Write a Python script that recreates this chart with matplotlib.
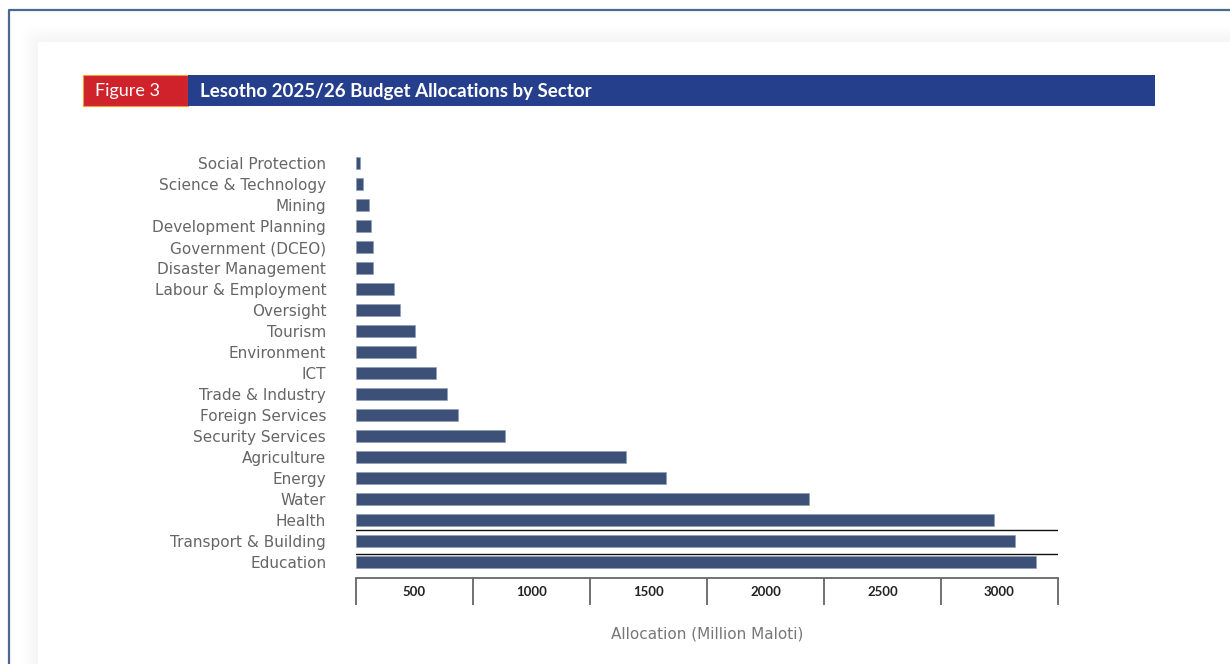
import numpy as np
import matplotlib.pyplot as plt
from matplotlib.patches import Rectangle, FancyBboxPatch
from matplotlib.lines import Line2D

# sectors, top of chart first
sectors = ["Social Protection", "Science & Technology", "Mining", "Development Planning",
           "Government (DCEO)", "Disaster Management", "Labour & Employment", "Oversight",
           "Tourism", "Environment", "ICT", "Trade & Industry", "Foreign Services",
           "Security Services", "Agriculture", "Energy", "Water", "Health",
           "Transport & Building", "Education"]
# allocations (million maloti)
allocation = [15, 31, 56, 64, 72, 72, 161, 186, 250, 257, 340, 387, 436, 637,
              1154, 1324, 1938, 2728, 2818, 2906]

major_ticks = [0, 500, 1000, 1500, 2000, 2500, 3000]
label_pos = [250, 750, 1250, 1750, 2250, 2750]
label_txt = ["500", "1000", "1500", "2000", "2500", "3000"]

W, H = 1230, 664
fig = plt.figure(figsize=(12.3, 6.64), dpi=100)

def fx(px):
    return px / W

def fy(py):
    return 1 - py / H

# soft shadow of the inner panel
for i in range(10):
    off = 16 - i * 1.6
    fig.patches.append(FancyBboxPatch((fx(38 - off), fy(H + 40)), fx(W + 40), fy(42 - off) - fy(H + 40),
                                      boxstyle="round,pad=0,rounding_size=0.012",
                                      transform=fig.transFigure, facecolor="#000000",
                                      alpha=0.0035, edgecolor="none", zorder=0))
fig.patches.append(Rectangle((fx(38), 0), 1, fy(42), transform=fig.transFigure,
                             facecolor="white", edgecolor="none", zorder=0.5))

# outer frame
fig.lines.append(Line2D([fx(8.5), fx(8.5), 1], [0, fy(10), fy(10)], transform=fig.transFigure,
                        color="#4a6890", lw=1.6, zorder=3))

# title banner
fig.patches.append(Rectangle((fx(83), fy(106)), fx(105), fy(75) - fy(106), transform=fig.transFigure,
                             facecolor="#d0222b", edgecolor="#f0a030", lw=0.8, zorder=2))
fig.patches.append(Rectangle((fx(188), fy(106)), fx(967), fy(75) - fy(106), transform=fig.transFigure,
                             facecolor="#253f8c", edgecolor="none", zorder=2))
fig.text(fx(95), fy(91), "Figure 3", color="white", fontsize=13, family="Lato",
         va="center", ha="left", zorder=4)
fig.text(fx(200), fy(91), "Lesotho 2025/26 Budget Allocations by Sector", color="white",
         fontsize=13.5, family="Lato", fontweight="bold", va="center", ha="left", zorder=4)

# chart
ax = fig.add_axes([fx(356), fy(578), fx(1058) - fx(356), fy(152.5) - fy(578)])
ax.set_zorder(2)
ax.patch.set_alpha(0)
ypos = np.arange(len(sectors))[::-1]
ax.barh(ypos, allocation, height=0.6, color="#3d5178", edgecolor="#8a9ab8", linewidth=0.4)
ax.set_ylim(-0.76, 19.5)
ax.set_xlim(0, 3000)
ax.set_yticks(ypos)
ax.set_yticklabels(sectors, fontsize=11, color="#666666", family="DejaVu Sans")
ax.tick_params(axis="y", length=0, pad=21.5)

ax.set_xticks(major_ticks)
ax.set_xticklabels([])
ax.tick_params(axis="x", which="major", direction="out", length=19.5, width=1.3, color="#666666")
ax.set_xticks(label_pos, minor=True)
ax.set_xticklabels(label_txt, minor=True, fontsize=9.5, fontweight="bold", family="Lato",
                   color="#222222")
ax.tick_params(axis="x", which="minor", length=0, pad=6)

for s in ["top", "right", "left"]:
    ax.spines[s].set_visible(False)
ax.spines["bottom"].set_color("#666666")
ax.spines["bottom"].set_linewidth(1.3)

# separator lines near the largest bars
ax.axhline(1.52, color="#111111", lw=1.0)
ax.axhline(0.38, color="#111111", lw=1.0)

fig.text(fx(707), fy(634), "Allocation (Million Maloti)", color="#777777", fontsize=11,
         family="DejaVu Sans", ha="center", va="center")

fig.savefig("out.png", dpi=100, facecolor="white")
